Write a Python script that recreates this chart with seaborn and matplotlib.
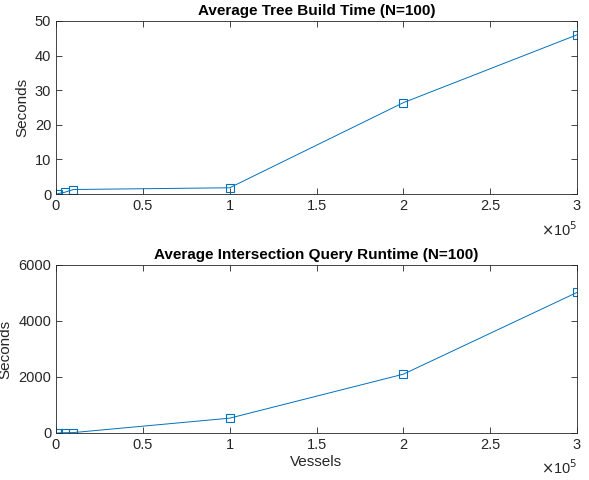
import numpy as np
import pandas as pd
import matplotlib
matplotlib.use("Agg")
import matplotlib.pyplot as plt
import seaborn as sns
from matplotlib.ticker import FuncFormatter

# data
vessels = [1000, 5000, 10000, 100000, 200000, 300000]
build_time = [0.1, 0.5, 1.3, 1.8, 26.4, 46.0]
query_time = [5, 10, 15, 530, 2100, 5020]

df = pd.DataFrame({"vessels": vessels, "build": build_time, "query": query_time})

sns.set_style("white")
plt.rcParams["font.family"] = ["Liberation Sans", "DejaVu Sans"]
plt.rcParams["axes.edgecolor"] = "#262626"
plt.rcParams["axes.linewidth"] = 0.6

line_col = "#0072BD"

fig = plt.figure(figsize=(5.89, 4.8), dpi=100)
ax1 = fig.add_axes([56 / 589, 1 - 194 / 480, 521 / 589, 173 / 480])
ax2 = fig.add_axes([56 / 589, 1 - 433 / 480, 521 / 589, 168 / 480])

panels = [
    (ax1, "build", "Average Tree Build Time (N=100)", [0, 10, 20, 30, 40, 50], (0, 50), None),
    (ax2, "query", "Average Intersection Query Runtime (N=100)", [0, 2000, 4000, 6000], (0, 6000), "Vessels"),
]

for ax, col, title, yt, ylim, xlab in panels:
    sns.lineplot(data=df, x="vessels", y=col, ax=ax, color=line_col, linewidth=0.7,
                 marker="s", markersize=6, markerfacecolor="none",
                 markeredgecolor=line_col, markeredgewidth=0.8)
    ax.set_xlim(0, 300000)
    ax.set_ylim(*ylim)
    ax.set_xticks(np.arange(0, 300001, 50000))
    ax.xaxis.set_major_formatter(FuncFormatter(lambda v, p: "%g" % (v / 1e5)))
    ax.set_yticks(yt)
    ax.tick_params(direction="in", length=4, width=0.6, labelsize=10.5,
                   colors="#262626", top=True, right=True, bottom=True, left=True,
                   labeltop=False, labelright=False)
    ax.set_title(title, fontsize=11, fontweight="bold", color="black", pad=4)
    ax.set_ylabel("Seconds", fontsize=11, color="#262626", labelpad=4)
    ax.set_xlabel(xlab if xlab else "", fontsize=11, color="#262626", labelpad=2)
    ax.text(1.0, -0.205, r"$\times$10$^5$", transform=ax.transAxes, ha="right", va="center",
            fontsize=10.5, color="#262626")
    for s in ax.spines.values():
        s.set_visible(True)

fig.savefig("out.png", dpi=100, facecolor="white")
